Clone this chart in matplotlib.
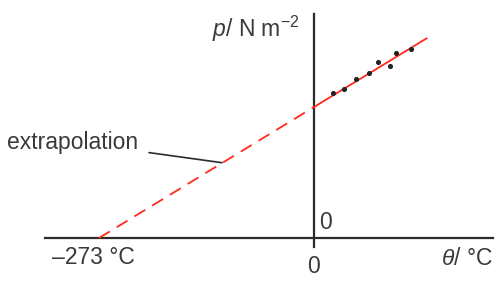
import matplotlib
matplotlib.use('Agg')
import matplotlib.pyplot as plt

plt.rcParams['font.family'] = ['Liberation Sans', 'DejaVu Sans']
plt.rcParams['mathtext.fontset'] = 'custom'
plt.rcParams['mathtext.it'] = 'Liberation Sans:italic'
plt.rcParams['mathtext.rm'] = 'Liberation Sans'

# measured points (temperature / °C, pressure in arbitrary units)
theta = [23.7, 38.5, 53.0, 69.8, 81.3, 97.0, 103.8, 123.6]
pressure = [110.5, 113.5, 121.6, 125.7, 134.6, 131.5, 141.2, 144.0]

# best-fit line: solid over the measured range, dashed back to absolute zero
fit_theta = [0, 143]
fit_p = [100, 152.4]
extra_theta = [-273, 0]
extra_p = [0, 100]

axis_col = '#2b2b2b'
txt_col = '#3a3a3a'
red = '#ff2a1a'
fs = 16.5

fig = plt.figure(figsize=(5.04, 2.81), dpi=100)
ax = fig.add_axes([0, 0, 1, 1])
ax.set_xlim(-398.7, 241.3)
ax.set_ylim(-32.8, 181.7)
ax.axis('off')

# axes
ax.plot([-342, 227], [0, 0], color=axis_col, lw=1.6)
ax.plot([0, 0], [-6.9, 171], color=axis_col, lw=1.6)

ax.plot(extra_theta, extra_p, color=red, lw=1.3, dashes=(7, 4.5))
ax.plot(fit_theta, fit_p, color=red, lw=1.3)
ax.scatter(theta, pressure, s=7, color='#222222', zorder=3)

ax.annotate('extrapolation', xy=(-116.8, 57.5), xytext=(-223.5, 73.3),
            ha='right', va='center', fontsize=fs, color=txt_col,
            arrowprops=dict(arrowstyle='-', color=axis_col, lw=1.2,
                            shrinkA=6, shrinkB=0))

ax.text(-17.8, 159.5, r'$p$/ N m$^{-2}$', ha='right', va='center',
        fontsize=fs, color=txt_col)
ax.text(-280.6, -14.5, '\u2013273 \u00b0C', ha='center', va='center',
        fontsize=fs, color=txt_col)
ax.text(0, -21.4, '0', ha='center', va='center', fontsize=fs, color=txt_col)
ax.text(14, 12.2, '0', ha='center', va='center', fontsize=fs, color=txt_col)
ax.text(227.3, -15.3, r'$\theta$/ \u00b0C'.replace('\\u00b0', '\u00b0'),
        ha='right', va='center', fontsize=fs, color=txt_col)

fig.savefig('out.png', dpi=100)
